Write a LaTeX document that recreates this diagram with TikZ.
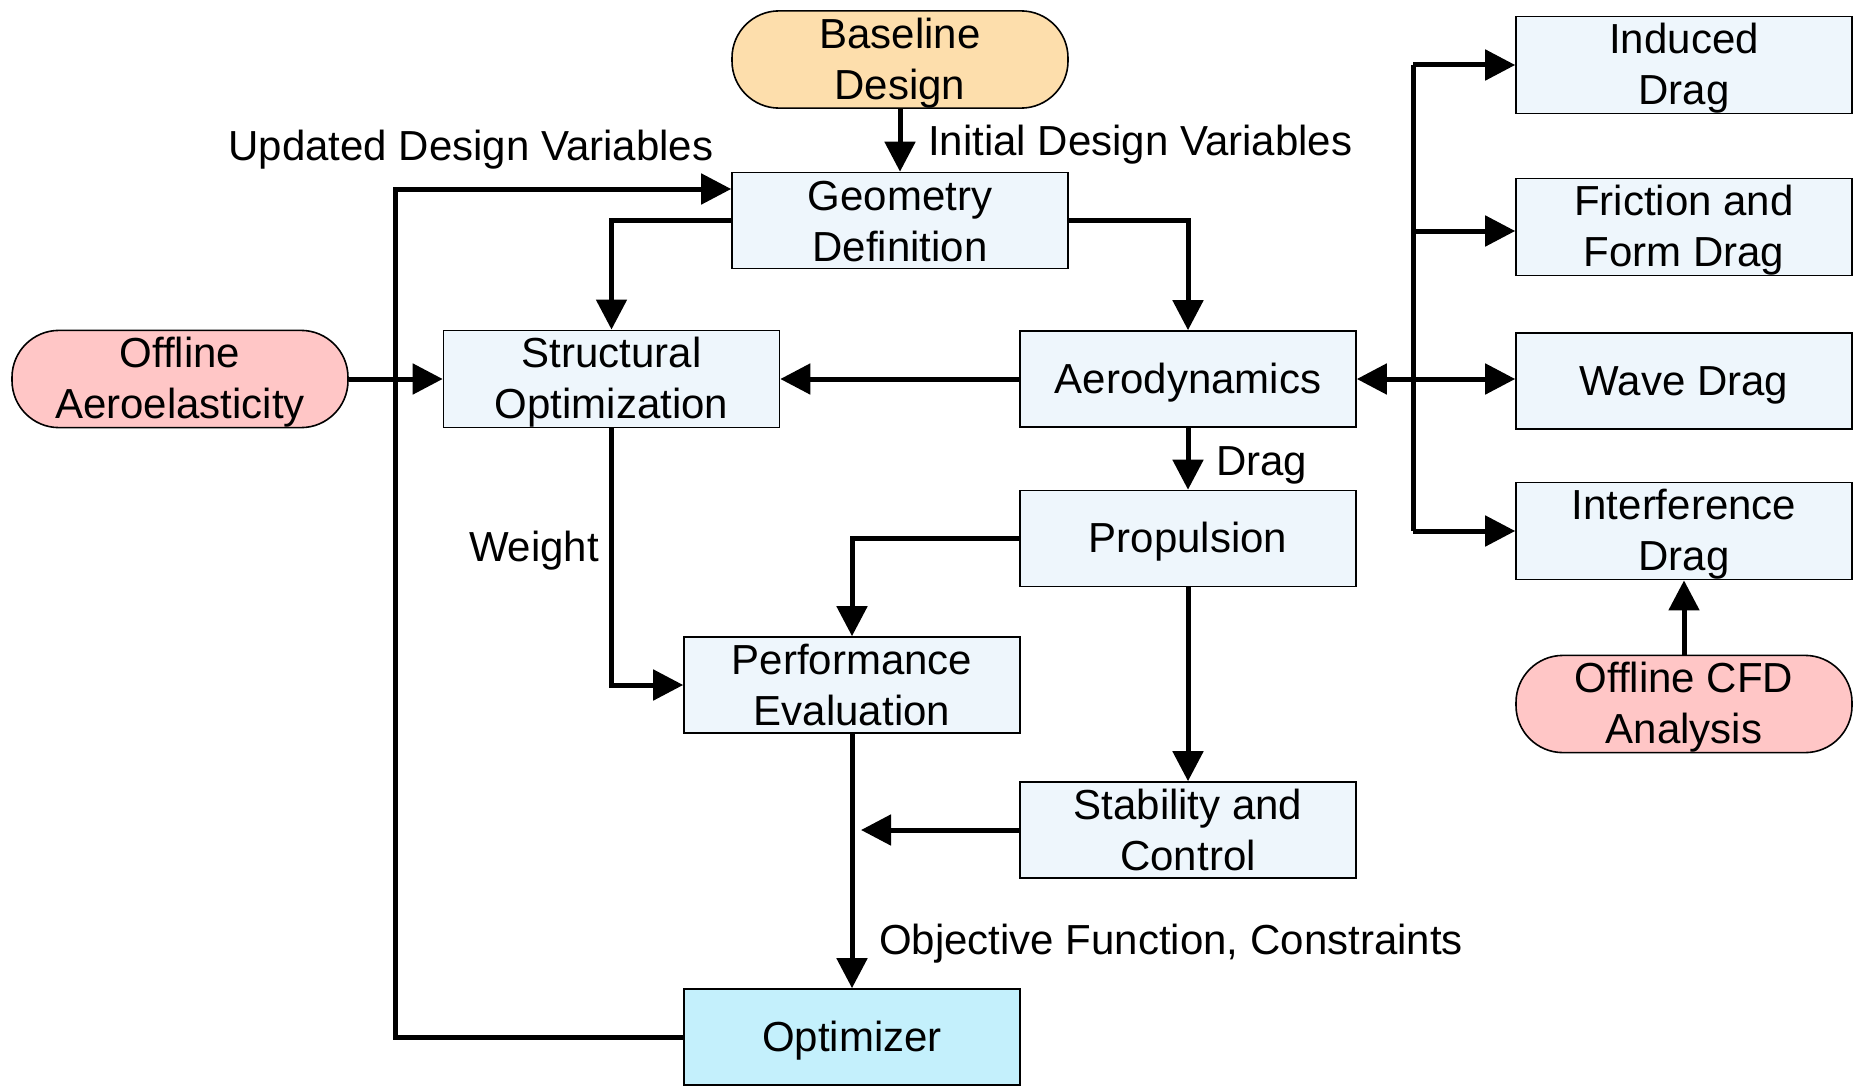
\documentclass[tikz,border=0pt]{standalone}
\usepackage{fontspec}
\setmainfont{Liberation Sans}
\usetikzlibrary{arrows.meta,calc}
\definecolor{boxfill}{RGB}{238,246,252}
\definecolor{optfill}{RGB}{196,240,252}
\definecolor{basefill}{RGB}{253,222,172}
\definecolor{offfill}{RGB}{255,198,198}
\newcommand{\T}{\rule{0pt}{37.5pt}}
\newcommand{\B}{\rule[-7.5pt]{0pt}{7.5pt}}
\tikzset{
  box/.style={draw=black, line width=1.6pt, fill=boxfill, minimum width=336pt, minimum height=96pt, align=center, inner sep=0pt, font=\fontsize{42}{51}\selectfont},
  pill/.style={box, rounded corners=47pt},
  conn/.style={line width=5pt, draw=black},
  arr/.style={conn, -{Triangle[length=30pt,width=30pt]}},
  darr/.style={conn, {Triangle[length=30pt,width=30pt]}-{Triangle[length=30pt,width=30pt]}},
  lbl/.style={font=\fontsize{42}{52}\selectfont, inner sep=0pt}
}
\begin{document}
\begin{tikzpicture}[x=1pt,y=-1pt]
\useasboundingbox (0,0) rectangle (1860,1089);
% nodes
\node[pill, fill=basefill] (base) at (900,59.5) {\T Baseline\\Design\B};
\node[box] (geo) at (900,220.5) {\T Geometry\\Definition\B};
\node[box] (struct) at (611.5,379) {\T Structural\\Optimization\B};
\node[box] (aero) at (1188,379) {\T Aerodynamics\B};
\node[box] (prop) at (1188,538.5) {\T Propulsion\B};
\node[box] (perf) at (852,685) {\T Performance\\Evaluation\B};
\node[box] (stab) at (1188,830) {\T Stability and\\Control\B};
\node[box, fill=optfill] (opt) at (852,1037) {\T Optimizer\B};
\node[pill, fill=offfill] (aeroel) at (180,379) {\T Offline\\Aeroelasticity\B};
\node[box] (ind) at (1684,65) {\T Induced\\Drag\B};
\node[box] (fric) at (1684,227) {\T Friction and\\Form Drag\B};
\node[box] (wave) at (1684,381) {\T Wave Drag\B};
\node[box] (intf) at (1684,531) {\T Interference\\Drag\B};
\node[pill, fill=offfill] (cfd) at (1684,704) {\T Offline CFD\\Analysis\B};
% labels
\node[lbl, anchor=west] (lidv) at (928,145) {Initial Design Variables};
\node[lbl] (ludv) at (471,150) {Updated Design Variables};
\node[lbl, anchor=west] (ldrag) at (1216,465) {Drag};
\node[lbl] (lweight) at (534,551) {Weight};
\node[lbl, anchor=west] (lobj) at (879,944) {Objective Function, Constraints};
% coordinates
\coordinate (fb) at (395,189);
\coordinate (bx) at (1413,0);
\coordinate (fa) at (1413,231);
\coordinate (stabend) at (861,830);
% connectors
\draw[arr] (base) -- (geo);
\draw[arr] (opt.west) -| (fb) -- (geo.west |- fb);
\draw[arr] (geo.west) -| (struct.north);
\draw[arr] (geo.east) -| (aero.north);
\draw[arr] (aeroel) -- (struct);
\draw[arr] (aero) -- (struct);
\draw[arr] (aero) -- (prop);
\draw[arr] (struct.south) |- (perf.west);
\draw[arr] (prop.west) -| (perf.north);
\draw[arr] (prop) -- (stab);
\draw[arr] (stab.west) -- (stabend);
\draw[arr] (perf) -- (opt);
\draw[darr] (aero.east) -- (aero.east -| wave.west);
\draw[conn] (bx |- ind.west) -- (bx |- intf.west);
\draw[arr] (bx |- ind.west) -- (ind.west);
\draw[arr] (fa) -- (fa -| fric.west);
\draw[arr] (bx |- intf.west) -- (intf.west);
\draw[arr] (cfd) -- (intf);
\end{tikzpicture}
\end{document}
